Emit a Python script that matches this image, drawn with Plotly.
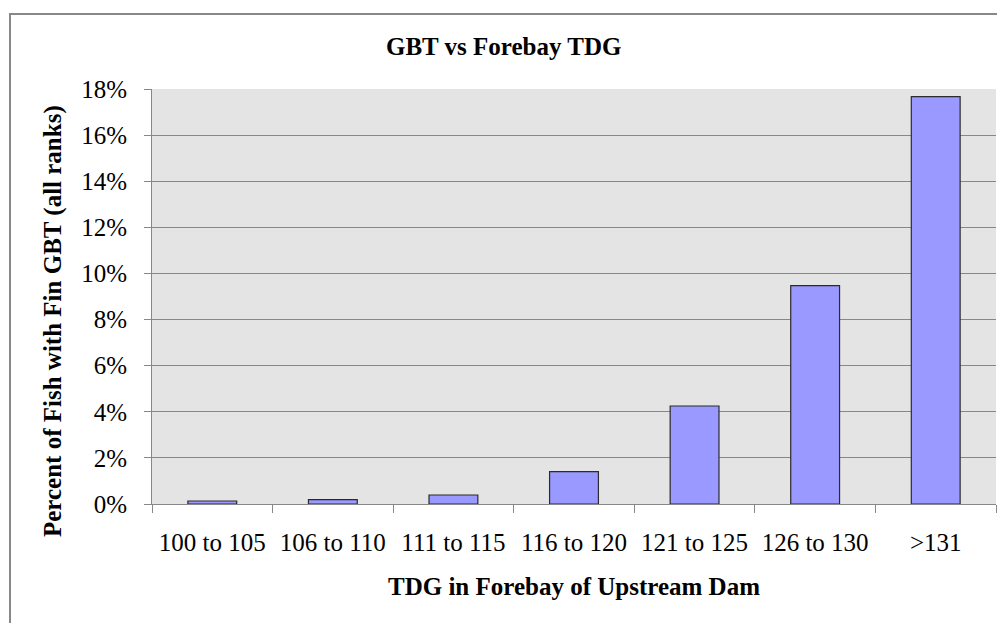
import plotly.graph_objects as go

categories = ["100 to 105", "106 to 110", "111 to 115", "116 to 120",
              "121 to 125", "126 to 130", ">131"]
values = [0.0013, 0.0019, 0.0039, 0.0140, 0.0425, 0.0947, 0.1767]

title_text = "GBT vs Forebay TDG"
x_title = "TDG in Forebay of Upstream Dam"
y_title = "Percent of Fish with Fin GBT (all ranks)"

FONT = "Liberation Serif"
GRID = "#878787"

OFF = 8  # page body margin in the browser
W, H = 1005, 623
# plot area in screen pixels: x 152..996, y 89..504
L = 152 - OFF
T = 89 - OFF
R = W - (996 - OFF)
B = H - (504 - OFF)
PW = W - L - R
PH = H - T - B


def px_x(px):
    return (px - OFF - L) / PW


def px_y(py):
    return (H - B - (py - OFF)) / PH


fig = go.Figure()
fig.add_trace(go.Bar(
    x=categories, y=values,
    marker=dict(color="#9999FF", line=dict(color="#2b2b2b", width=1.2)),
    hoverinfo="x+y",
))

fig.update_layout(
    width=W, height=H, autosize=False,
    margin=dict(l=L, r=R, t=T, b=B, pad=0),
    paper_bgcolor="white",
    plot_bgcolor="#E4E4E4",
    bargap=0.595,
    showlegend=False,
    font=dict(family=FONT, color="black", size=25),
)

fig.update_xaxes(
    type="category",
    showline=True, linecolor=GRID, linewidth=1,
    ticks="outside", ticklen=8, tickcolor=GRID, tickwidth=1,
    tickson="boundaries",
    showgrid=False,
    tickfont=dict(family=FONT, size=25, color="black"),
    ticklabelstandoff=16,
)
fig.update_yaxes(
    range=[0, 0.18], dtick=0.02, tick0=0, tickformat=".0%",
    showline=True, linecolor=GRID, linewidth=1,
    ticks="outside", ticklen=7, tickcolor=GRID, tickwidth=1,
    showgrid=True, gridcolor=GRID, gridwidth=1,
    zeroline=False,
    tickfont=dict(family=FONT, size=25, color="black"),
    ticklabelstandoff=12,
)

fig.add_shape(
    type="rect", xref="paper", yref="paper",
    x0=px_x(10), x1=px_x(1030), y0=px_y(660), y1=px_y(14),
    line=dict(color="#888888", width=2), fillcolor="rgba(0,0,0,0)",
    layer="below",
)

fig.add_annotation(
    text="<b>" + title_text + "</b>", xref="paper", yref="paper",
    x=px_x(503), y=px_y(47), xanchor="center", yanchor="middle",
    showarrow=False, font=dict(family=FONT, size=25, color="black"),
)
fig.add_annotation(
    text="<b>" + x_title + "</b>", xref="paper", yref="paper",
    x=px_x(574), y=px_y(586), xanchor="center", yanchor="middle",
    showarrow=False, font=dict(family=FONT, size=25, color="black"),
)
fig.add_annotation(
    text="<b>" + y_title + "</b>", xref="paper", yref="paper",
    x=px_x(53), y=px_y(321), xanchor="center", yanchor="middle",
    textangle=-90,
    showarrow=False, font=dict(family=FONT, size=25, color="black"),
)

fig.write_html("out.html")
